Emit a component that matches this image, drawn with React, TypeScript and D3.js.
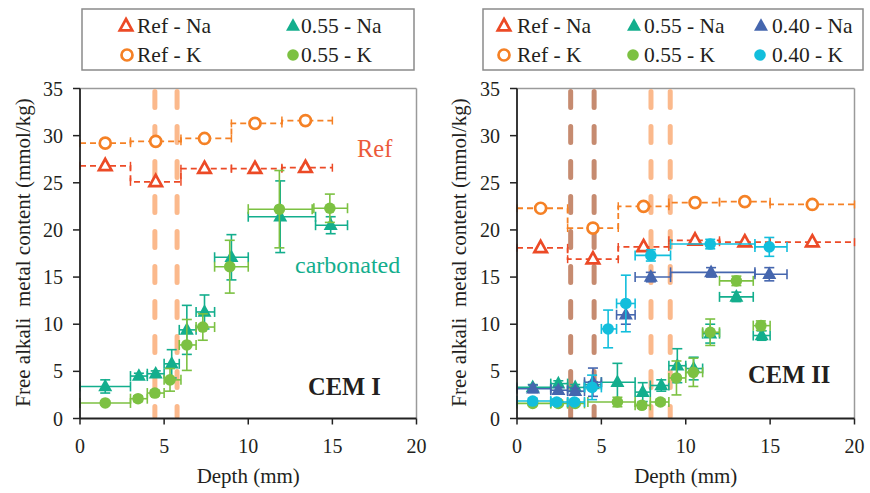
import React from 'react';
import * as d3 from 'd3';

const FONT = "'Liberation Serif', serif";

// Colours
const C_REF_NA = '#EC4A26';
const C_REF_K = '#F58125';
const C_055_NA = '#13AE8D';
const C_055_K = '#7CC142';
const C_040_NA = '#4566AE';
const C_040_K = '#12BEDC';
const C_BAND = '#FBB98C';
const C_BAND_DARK = '#C68B70';

// Axis ticks
const xTicks = [0, 5, 10, 15, 20];
const yTicks = [0, 5, 10, 15, 20, 25, 30, 35];

// ---- CEM I ----
const cem1RefLo = [0, 3, 6, 9, 12];
const cem1RefHi = [3, 6, 9, 12, 15];
const cem1RefX = [1.5, 4.5, 7.4, 10.4, 13.4];
const cem1RefNa = [26.8, 25.1, 26.5, 26.5, 26.6];
const cem1RefK = [29.2, 29.4, 29.7, 31.3, 31.6];

const cem1NaX = [1.5, 3.5, 4.5, 5.45, 6.35, 7.4, 9.0, 11.9, 14.9];
const cem1NaY = [3.4, 4.5, 4.75, 5.8, 9.4, 11.3, 17.1, 21.4, 20.5];
const cem1NaLo = [0, 3, 4, 5, 5.9, 6.9, 8, 10, 14];
const cem1NaHi = [3, 4, 5, 5.9, 6.9, 8, 10, 14, 15.9];
const cem1NaErr = [0.7, 0.3, 0.3, 1.5, 2.6, 1.8, 2.4, 3.8, 0.9];

const cem1KX = [1.5, 3.45, 4.45, 5.35, 6.35, 7.3, 8.9, 11.85, 14.85];
const cem1KY = [1.65, 2.1, 2.7, 4.1, 7.8, 9.7, 16.1, 22.2, 22.3];
const cem1KLo = [0, 3, 4, 5, 5.9, 6.9, 8, 10, 13.9];
const cem1KHi = [3, 4, 5, 6, 6.9, 8, 10, 13.8, 15.9];
const cem1KErr = [0.2, 0.3, 0.3, 1.2, 2.7, 1.4, 2.8, 4.1, 1.5];

const cem1Bands = [4.45, 5.77];

// ---- CEM II ----
const cem2RefLo = [0, 3, 6, 9, 12, 15];
const cem2RefHi = [3, 6, 9, 12, 15, 20];
const cem2RefX = [1.4, 4.5, 7.5, 10.55, 13.5, 17.5];
const cem2RefNa = [18.1, 16.9, 18.2, 18.9, 18.7, 18.7];
const cem2RefK = [22.3, 20.2, 22.5, 22.9, 23.0, 22.7];

const cem2Na55X = [0.93, 2.45, 3.45, 4.5, 5.95, 7.45, 8.55, 9.5, 10.47, 11.45, 13.0, 14.5];
const cem2Na55Y = [3.3, 3.7, 3.3, 3.6, 3.85, 2.8, 3.5, 5.6, 5.3, 9.0, 12.9, 8.8];
const cem2Na55Lo = [0, 2, 3, 4, 5, 7, 7.9, 9, 10, 11, 12, 14];
const cem2Na55Hi = [2, 3, 4, 5, 7, 7.9, 9, 10, 11, 12, 14, 15];
const cem2Na55Err = [0.3, 0.3, 0.3, 0.3, 2.0, 1.0, 0.6, 1.8, 1.2, 1.0, 0.5, 0.5];

const cem2K55X = [0.93, 2.45, 3.45, 5.95, 7.4, 8.5, 9.45, 10.45, 11.45, 13.0, 14.45];
const cem2K55Y = [1.6, 1.6, 1.6, 1.75, 1.4, 1.75, 4.3, 4.9, 9.15, 14.6, 9.85];
const cem2K55Lo = [0, 2, 3, 4.2, 7, 7.9, 9, 10, 11, 12, 14];
const cem2K55Hi = [2, 3, 4, 7, 7.9, 9, 10, 11, 12, 14, 15];
const cem2K55Err = [0.2, 0.2, 0.2, 0.5, 0.3, 0.3, 1.8, 1.5, 1.4, 0.5, 0.5];

const cem2Na40X = [0.95, 2.45, 3.45, 4.5, 6.45, 7.93, 11.5, 14.95];
const cem2Na40Y = [3.15, 3.0, 2.9, 3.85, 11.0, 15.0, 15.5, 15.3];
const cem2Na40Lo = [0, 2, 3, 4, 5.9, 7, 9.1, 14.1];
const cem2Na40Hi = [2, 3, 4, 5, 7, 9.1, 14.1, 16];
const cem2Na40Err = [0.4, 0.3, 0.3, 1.5, 1.0, 0.5, 0.5, 0.7];

const cem2K40X = [0.93, 2.35, 3.4, 4.45, 5.4, 6.45, 7.93, 11.45, 14.95];
const cem2K40Y = [1.85, 1.75, 1.75, 3.3, 9.5, 12.2, 17.3, 18.5, 18.2];
const cem2K40Lo = [0, 2, 3, 4, 5, 5.9, 7, 9.1, 14.1];
const cem2K40Hi = [2, 3, 4, 5, 5.9, 7, 9.1, 14.1, 16];
const cem2K40Err = [0.3, 0.3, 0.3, 1.3, 2.0, 3.0, 0.6, 0.5, 1.0];

const cem2BandsDark = [3.18, 4.57];
const cem2Bands = [7.94, 9.08];

type Marker = 'triOpen' | 'tri' | 'circOpen' | 'circ';

interface Series {
  color: string;
  marker: Marker;
  x: number[];
  y: number[];
  lo: number[];
  hi: number[];
  err: number[];
}

function triPath(cx: number, cy: number, w: number) {
  const h = w * 0.9;
  return `M${cx},${cy - h * 0.62}L${cx + w / 2},${cy + h * 0.38}L${cx - w / 2},${cy + h * 0.38}Z`;
}

function MarkerShape({ type, cx, cy, color }: { type: Marker; cx: number; cy: number; color: string }) {
  if (type === 'triOpen')
    return <path d={triPath(cx, cy, 12.5)} fill="#fff" stroke={color} strokeWidth={2.7} strokeLinejoin="miter" />;
  if (type === 'tri') return <path d={triPath(cx, cy, 14)} fill={color} />;
  if (type === 'circOpen') return <circle cx={cx} cy={cy} r={5.5} fill="#fff" stroke={color} strokeWidth={2.7} />;
  return <circle cx={cx} cy={cy} r={5.8} fill={color} />;
}

const yScale = d3.scaleLinear().domain([0, 35]).range([418.5, 88.5]);

interface PanelProps {
  px0: number;
  px1: number;
  titleX: number;
  refLo: number[];
  refHi: number[];
  refX: number[];
  refNa: number[];
  refK: number[];
  bands: { x: number; color: string }[];
  series: Series[];
}

function Panel({ px0, px1, titleX, refLo, refHi, refX, refNa, refK, bands, series }: PanelProps) {
  const x = d3.scaleLinear().domain([0, 20]).range([px0, px1]);
  const y = yScale;
  const [yb, yt] = y.range();

  const stepLine = d3
    .line<[number, number]>()
    .x((d) => x(d[0]))
    .y((d) => y(d[1]))
    .curve(d3.curveStepAfter);

  const refPts = (vals: number[]): [number, number][] => [
    ...vals.map((v, i) => [refLo[i], v] as [number, number]),
    [refHi[refHi.length - 1], vals[vals.length - 1]],
  ];

  const refCaps = (vals: number[], color: string) =>
    vals.map((v, i) => (
      <g key={i} stroke={color} strokeWidth={1.5}>
        <line x1={x(refLo[i])} x2={x(refLo[i])} y1={y(v) - 4} y2={y(v) + 4} />
        <line x1={x(refHi[i])} x2={x(refHi[i])} y1={y(v) - 4} y2={y(v) + 4} />
      </g>
    ));

  const cap = 5;

  return (
    <g>
      {/* frame */}
      <line x1={px0} x2={px1} y1={yt} y2={yt} stroke="#9a9a9a" strokeWidth={1.5} />
      <line x1={px1} x2={px1} y1={yt} y2={yb} stroke="#9a9a9a" strokeWidth={1.5} />

      {/* depth bands */}
      {bands.map((b, i) => (
        <line
          key={i}
          x1={x(b.x)}
          x2={x(b.x)}
          y1={yt + 3}
          y2={yb - 2}
          stroke={b.color}
          strokeWidth={5}
          strokeLinecap="round"
          strokeDasharray="16,19"
        />
      ))}

      {/* reference step profiles */}
      <path d={stepLine(refPts(refK)) || ''} fill="none" stroke={C_REF_K} strokeWidth={1.8} strokeDasharray="6,4" />
      <path d={stepLine(refPts(refNa)) || ''} fill="none" stroke={C_REF_NA} strokeWidth={1.8} strokeDasharray="6,4" />
      {refCaps(refK, C_REF_K)}
      {refCaps(refNa, C_REF_NA)}
      {refX.map((v, i) => (
        <MarkerShape key={'k' + i} type="circOpen" cx={x(v)} cy={y(refK[i])} color={C_REF_K} />
      ))}
      {refX.map((v, i) => (
        <MarkerShape key={'n' + i} type="triOpen" cx={x(v)} cy={y(refNa[i])} color={C_REF_NA} />
      ))}

      {/* measured series with error bars */}
      {series.map((s, si) => (
        <g key={si}>
          <g stroke={s.color} strokeWidth={1.6} fill="none">
            {s.x.map((v, i) => {
              const cx = x(v);
              const cy = y(s.y[i]);
              const xl = x(s.lo[i]);
              const xh = x(s.hi[i]);
              const yl = y(s.y[i] - s.err[i]);
              const yh = y(s.y[i] + s.err[i]);
              return (
                <g key={i}>
                  <line x1={xl} x2={xh} y1={cy} y2={cy} />
                  <line x1={xl} x2={xl} y1={cy - cap} y2={cy + cap} />
                  <line x1={xh} x2={xh} y1={cy - cap} y2={cy + cap} />
                  <line x1={cx} x2={cx} y1={yl} y2={yh} />
                  <line x1={cx - cap} x2={cx + cap} y1={yl} y2={yl} />
                  <line x1={cx - cap} x2={cx + cap} y1={yh} y2={yh} />
                </g>
              );
            })}
          </g>
          {s.x.map((v, i) => (
            <MarkerShape key={i} type={s.marker} cx={x(v)} cy={y(s.y[i])} color={s.color} />
          ))}
        </g>
      ))}

      {/* axes */}
      <line x1={px0} x2={px1} y1={yb} y2={yb} stroke="#222" strokeWidth={1.8} />
      <line x1={px0} x2={px0} y1={yt} y2={yb} stroke="#222" strokeWidth={1.8} />
      {xTicks.map((t) => (
        <g key={t}>
          <line x1={x(t)} x2={x(t)} y1={yb} y2={yb + 6} stroke="#222" strokeWidth={1.5} />
          <text x={x(t)} y={yb + 34} textAnchor="middle" fontSize={20} fill="#231F20" fontFamily={FONT}>
            {t}
          </text>
        </g>
      ))}
      {yTicks.map((t) => (
        <g key={t}>
          <line x1={px0 - 7} x2={px0} y1={y(t)} y2={y(t)} stroke="#222" strokeWidth={1.5} />
          <text x={px0 - 17} y={y(t) + 7} textAnchor="end" fontSize={20} fill="#231F20" fontFamily={FONT}>
            {t}
          </text>
        </g>
      ))}
      <text x={(px0 + px1) / 2} y={483} textAnchor="middle" fontSize={21} fill="#231F20" fontFamily={FONT}>
        Depth (mm)
      </text>
      <text
        transform={`translate(${titleX},${(yt + yb) / 2 - 1}) rotate(-90)`}
        textAnchor="middle"
        fontSize={21}
        fill="#231F20"
        fontFamily={FONT}
        style={{ whiteSpace: 'pre' }}
      >
        {'Free alkali  metal content (mmol/kg)'}
      </text>
    </g>
  );
}

interface LegendItem {
  label: string;
  marker: Marker;
  color: string;
  sx: number;
  tx: number;
  row: number;
}

function Legend({ box, items }: { box: [number, number, number, number]; items: LegendItem[] }) {
  const rows = [26, 55];
  return (
    <g>
      <rect x={box[0]} y={box[1]} width={box[2] - box[0]} height={box[3] - box[1]} fill="#fff" stroke="#8a8a8a" strokeWidth={1.5} />
      {items.map((it, i) => (
        <g key={i}>
          <MarkerShape type={it.marker} cx={it.sx} cy={rows[it.row]} color={it.color} />
          <text x={it.tx} y={rows[it.row] + 7} fontSize={21.5} fill="#231F20" fontFamily={FONT}>
            {it.label}
          </text>
        </g>
      ))}
    </g>
  );
}

export default function App() {
  const cem1Series: Series[] = [
    { color: C_055_NA, marker: 'tri', x: cem1NaX, y: cem1NaY, lo: cem1NaLo, hi: cem1NaHi, err: cem1NaErr },
    { color: C_055_K, marker: 'circ', x: cem1KX, y: cem1KY, lo: cem1KLo, hi: cem1KHi, err: cem1KErr },
  ];
  const cem2Series: Series[] = [
    { color: C_055_NA, marker: 'tri', x: cem2Na55X, y: cem2Na55Y, lo: cem2Na55Lo, hi: cem2Na55Hi, err: cem2Na55Err },
    { color: C_055_K, marker: 'circ', x: cem2K55X, y: cem2K55Y, lo: cem2K55Lo, hi: cem2K55Hi, err: cem2K55Err },
    { color: C_040_NA, marker: 'tri', x: cem2Na40X, y: cem2Na40Y, lo: cem2Na40Lo, hi: cem2Na40Hi, err: cem2Na40Err },
    { color: C_040_K, marker: 'circ', x: cem2K40X, y: cem2K40Y, lo: cem2K40Lo, hi: cem2K40Hi, err: cem2K40Err },
  ];

  return (
    <svg
      width={870}
      height={493}
      viewBox="0 0 870 493"
      fontFamily={FONT}
      style={{ position: 'absolute', left: 0, top: 0, background: '#fff' }}
    >
      <rect width={870} height={493} fill="#fff" />
      <Panel
        px0={80}
        px1={416.5}
        titleX={30}
        refLo={cem1RefLo}
        refHi={cem1RefHi}
        refX={cem1RefX}
        refNa={cem1RefNa}
        refK={cem1RefK}
        bands={cem1Bands.map((b) => ({ x: b, color: C_BAND }))}
        series={cem1Series}
      />
      <Panel
        px0={517}
        px1={854.5}
        titleX={466}
        refLo={cem2RefLo}
        refHi={cem2RefHi}
        refX={cem2RefX}
        refNa={cem2RefNa}
        refK={cem2RefK}
        bands={[
          ...cem2BandsDark.map((b) => ({ x: b, color: C_BAND_DARK })),
          ...cem2Bands.map((b) => ({ x: b, color: C_BAND })),
        ]}
        series={cem2Series}
      />

      <text x={357} y={157} fontSize={24.5} fill="#EC5A3A" fontFamily={FONT}>
        Ref
      </text>
      <text x={295} y={273} fontSize={24} fill={C_055_NA} fontFamily={FONT}>
        carbonated
      </text>
      <text x={308} y={395} fontSize={24.5} fontWeight="bold" fill="#231F20" fontFamily={FONT}>
        CEM I
      </text>
      <text x={748} y={383} fontSize={24.5} fontWeight="bold" fill="#231F20" fontFamily={FONT}>
        CEM II
      </text>

      <Legend
        box={[82, 9, 414, 70]}
        items={[
          { label: 'Ref - Na', marker: 'triOpen', color: C_REF_NA, sx: 126, tx: 137, row: 0 },
          { label: '0.55 - Na', marker: 'tri', color: C_055_NA, sx: 293, tx: 301, row: 0 },
          { label: 'Ref - K', marker: 'circOpen', color: C_REF_K, sx: 127, tx: 137, row: 1 },
          { label: '0.55 - K', marker: 'circ', color: C_055_K, sx: 293, tx: 301, row: 1 },
        ]}
      />
      <Legend
        box={[483, 9, 863, 70]}
        items={[
          { label: 'Ref - Na', marker: 'triOpen', color: C_REF_NA, sx: 504, tx: 517, row: 0 },
          { label: '0.55 - Na', marker: 'tri', color: C_055_NA, sx: 634, tx: 644, row: 0 },
          { label: '0.40 - Na', marker: 'tri', color: C_040_NA, sx: 761, tx: 772, row: 0 },
          { label: 'Ref - K', marker: 'circOpen', color: C_REF_K, sx: 504, tx: 517, row: 1 },
          { label: '0.55 - K', marker: 'circ', color: C_055_K, sx: 633, tx: 644, row: 1 },
          { label: '0.40 - K', marker: 'circ', color: C_040_K, sx: 760, tx: 772, row: 1 },
        ]}
      />
    </svg>
  );
}
